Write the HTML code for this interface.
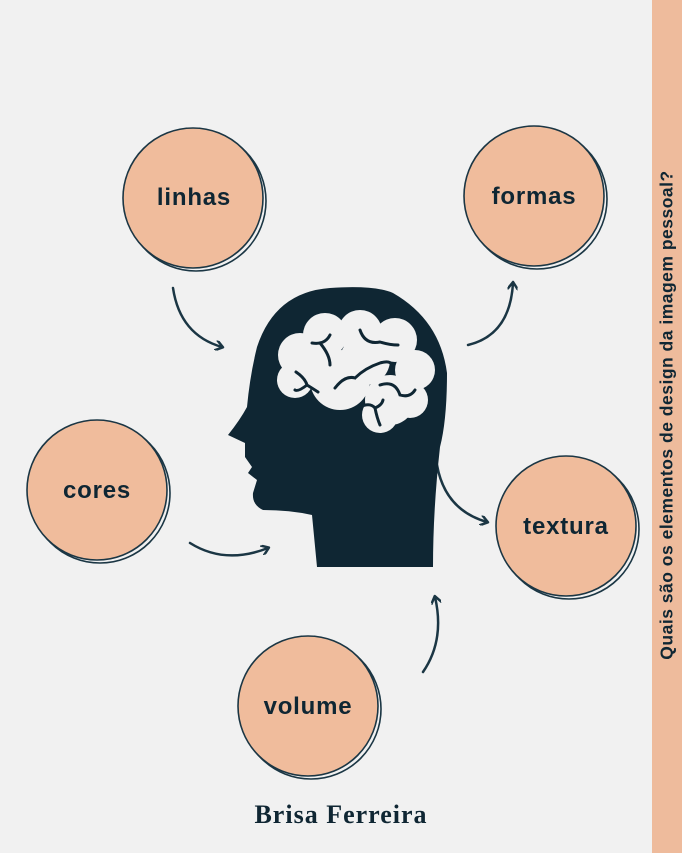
<!DOCTYPE html>
<html><head><meta charset="utf-8"><style>
html,body{margin:0;padding:0}
body{width:682px;height:853px;background:#f1f1f1;position:relative;overflow:hidden;font-family:"Liberation Sans",sans-serif}
.bar{position:absolute;left:652px;top:0;width:30px;height:853px;background:#eebb9c}
.vt{position:absolute;left:667px;top:415px;transform:translate(-50%,-50%) rotate(-90deg);white-space:nowrap;font-weight:bold;font-size:17.5px;color:#0f2633;letter-spacing:0.5px}
.ft{position:absolute;left:0;width:682px;top:800px;text-align:center;font-family:"Liberation Serif",serif;font-weight:bold;font-size:26px;color:#0f2633;letter-spacing:1px}
</style></head><body>
<svg width="682" height="853" style="position:absolute;left:0;top:0">
<defs>
<marker id="a" markerWidth="10" markerHeight="10" refX="7" refY="5" orient="auto" markerUnits="userSpaceOnUse">
<path d="M1,0 L8,5 L1,10" fill="none" stroke="#1b3644" stroke-width="2.5" stroke-linecap="round" stroke-linejoin="round"/></marker>
</defs>
<g stroke="#1b3644" stroke-width="1.6">
<circle cx="196" cy="201" r="70" fill="none"/><circle cx="193" cy="198" r="70" fill="#f0bc9c"/>
<circle cx="537" cy="199" r="70" fill="none"/><circle cx="534" cy="196" r="70" fill="#f0bc9c"/>
<circle cx="100" cy="493" r="70" fill="none"/><circle cx="97" cy="490" r="70" fill="#f0bc9c"/>
<circle cx="569" cy="529" r="70" fill="none"/><circle cx="566" cy="526" r="70" fill="#f0bc9c"/>
<circle cx="311" cy="709" r="70" fill="none"/><circle cx="308" cy="706" r="70" fill="#f0bc9c"/>
</g>
<g fill="none" stroke="#1b3644" stroke-width="2.5" stroke-linecap="round" marker-end="url(#a)">
<path d="M173,288 Q180,335 222,347"/>
<path d="M468,345 Q510,335 513,283"/>
<path d="M190,543 Q225,565 268,548"/>
<path d="M437,465 Q445,510 487,522"/>
<path d="M423,672 Q445,640 435,597"/>
</g>
<path fill="#0f2633" d="M317,567 L312,515 Q290,510 263,510 Q252,505 253,493 L257,480 L248,473 L252,467 L245,457 L245,443 L228,435 Q240,420 247,407 Q250,375 257,347 Q275,292 330,288 Q375,285 393,293 Q440,320 447,373 Q447,420 440,447 Q433,510 433,567 Z"/>
<g fill="#f1f1f1">
<circle cx="300" cy="355" r="22"/><circle cx="325" cy="335" r="22"/><circle cx="360" cy="332" r="22"/>
<circle cx="395" cy="340" r="22"/><circle cx="415" cy="370" r="20"/><circle cx="390" cy="400" r="25"/>
<circle cx="340" cy="380" r="30"/><circle cx="295" cy="380" r="18"/><circle cx="365" cy="360" r="25"/>
<circle cx="410" cy="400" r="18"/><circle cx="380" cy="415" r="18"/>
</g>
<g fill="none" stroke="#0f2633" stroke-width="3" stroke-linecap="round">
<path d="M312,343 Q325,345 330,335 M320,343 Q330,355 330,365"/>
<path d="M360,330 Q365,345 380,342 Q390,345 398,345"/>
<path d="M296,372 Q305,378 307,385 Q298,392 295,390 M307,385 Q315,390 318,392"/>
<path d="M335,388 Q345,375 355,378 Q365,368 380,363 Q390,360 392,365"/>
<path d="M380,385 Q395,380 400,395 Q410,398 415,390"/>
<path d="M360,407 Q370,402 375,408 Q382,405 383,400 M375,408 Q377,418 380,425"/>
</g>
<g font-family="Liberation Sans,sans-serif" font-weight="bold" font-size="24" fill="#0f2633" text-anchor="middle" letter-spacing="0.8">
<text x="194" y="205">linhas</text>
<text x="534" y="204">formas</text>
<text x="97" y="498">cores</text>
<text x="566" y="534">textura</text>
<text x="308" y="714">volume</text>
</g>
</svg>
<div class="bar"></div>
<div class="vt">Quais são os elementos de design da imagem pessoal?</div>
<div class="ft">Brisa Ferreira</div>
</body></html>
